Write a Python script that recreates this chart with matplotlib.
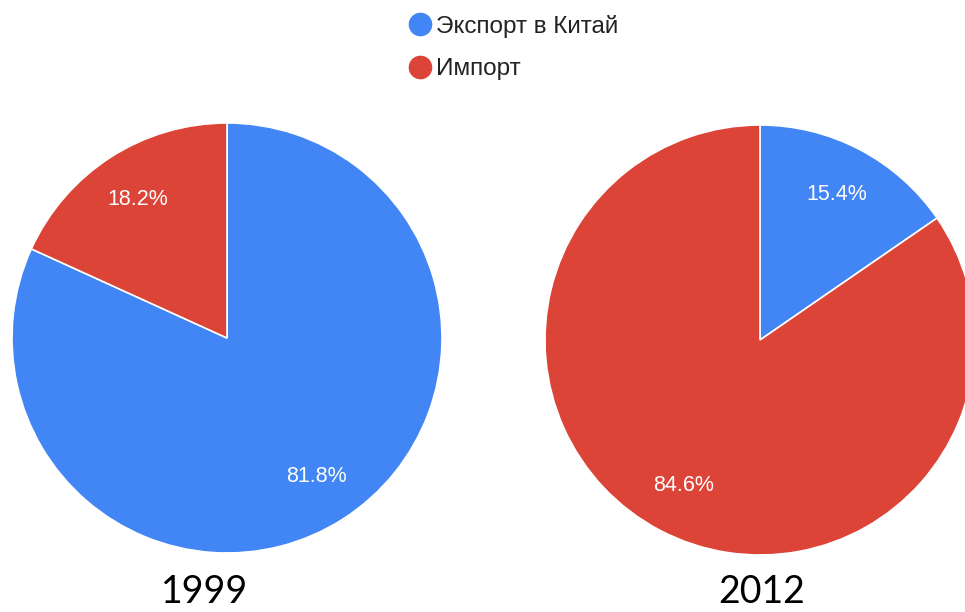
import matplotlib
matplotlib.use("Agg")
import matplotlib.pyplot as plt
from matplotlib.lines import Line2D

# data
categories = ["Экспорт в Китай", "Импорт"]
years = ["1999", "2012"]
shares_1999 = [81.8, 18.2]
shares_2012 = [15.4, 84.6]
colors = ["#4285F4", "#DB4437"]

W, H = 965, 612
fig = plt.figure(figsize=(W / 100, H / 100), dpi=100)
ax = fig.add_axes([0, 0, 1, 1])

# pie centres/radius in pixel coords (y from bottom)
pies = [(shares_1999, (227, H - 338)), (shares_2012, (760, H - 340))]
year_x = [205, 762]
R = 215

for vals, c in pies:
    wedges, texts, autotexts = ax.pie(
        vals, colors=colors, startangle=90, counterclock=False,
        center=c, radius=R, autopct="%.1f%%", pctdistance=0.765,
        wedgeprops=dict(edgecolor="white", linewidth=1.2),
        textprops=dict(color="white", fontsize=15.5, family="Liberation Sans"))

for yr, x in zip(years, year_x):
    ax.text(x, 2, yr, ha="center", va="bottom",
            fontsize=27, family="Lato", color="black")

ax.set_xlim(0, W)
ax.set_ylim(0, H)
ax.set_aspect("equal")
ax.axis("off")

handles = [Line2D([], [], marker="o", linestyle="none", markersize=16,
                  markerfacecolor=col, markeredgecolor=col) for col in colors]
leg = ax.legend(handles, categories, loc="upper left",
                bbox_to_anchor=(396 / W, 1 - 5 / H), frameon=False,
                prop=dict(family="Liberation Sans", size=17.5),
                labelspacing=0.85, handletextpad=0.1, handlelength=1.15,
                borderaxespad=0)
for t in leg.get_texts():
    t.set_color("#222222")

fig.savefig("out.png", dpi=100)
